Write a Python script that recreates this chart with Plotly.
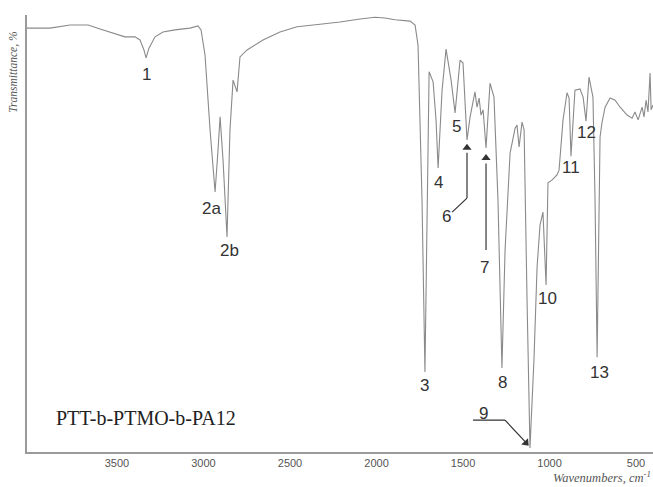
import plotly.graph_objects as go

# Spectrum trace (wavenumber, cm^-1 ; transmittance, %)
wavenumber = [4020, 3887, 3771, 3667, 3598, 3511, 3454, 3396, 3367, 3344, 3332, 3315, 3280, 3234,
              3165, 3078, 3032, 3014, 2991, 2962, 2933, 2916, 2904, 2887, 2864, 2847, 2829, 2806,
              2789, 2748, 2656, 2558, 2459, 2326, 2211, 2095, 2009, 1951, 1893, 1806, 1777, 1760,
              1737, 1720, 1702, 1696, 1673, 1656, 1644, 1621, 1598, 1569, 1546, 1517, 1500, 1477,
              1459, 1431, 1419, 1407, 1396, 1384, 1367, 1344, 1321, 1298, 1275, 1257, 1228, 1199,
              1188, 1176, 1159, 1147, 1130, 1113, 1090, 1072, 1055, 1038, 1020, 1009, 986, 957,
              945, 922, 899, 887, 876, 853, 824, 806, 789, 772, 749, 737, 725, 714, 708, 697,
              679, 650, 621, 592, 552, 523, 506, 488, 465, 454, 442, 431, 419, 413, 402]
transmittance = [97.0, 97.0, 97.7, 97.7, 96.8, 95.7, 95.0, 95.0, 94.3, 92.0, 90.2, 92.4, 95.0, 96.1,
                 96.6, 97.0, 97.5, 96.6, 90.8, 73.7, 59.5, 69.1, 76.7, 66.8, 49.2, 73.7, 85.1, 82.4,
                 90.4, 92.0, 94.3, 96.1, 97.3, 97.9, 98.4, 99.1, 99.5, 99.3, 98.9, 98.6, 97.7, 93.1,
                 57.7, 18.3, 68.6, 87.0, 84.7, 76.0, 65.0, 82.8, 92.2, 85.1, 77.6, 89.7, 89.0, 71.4,
                 76.7, 82.4, 78.9, 81.0, 77.1, 78.3, 69.6, 84.4, 81.2, 57.7, 19.2, 46.2, 68.4, 74.1,
                 74.8, 69.8, 75.5, 73.7, 34.8, 0.9, 21.1, 42.3, 51.9, 54.9, 38.2, 61.6, 62.2, 63.4,
                 64.5, 76.0, 82.2, 81.0, 67.7, 82.8, 83.1, 81.2, 75.7, 85.8, 81.2, 57.7, 21.7, 57.7,
                 72.1, 75.3, 78.9, 81.0, 80.5, 78.9, 77.1, 76.4, 77.8, 76.0, 78.9, 76.7, 80.5, 77.8,
                 86.7, 78.3, 79.4]

# Peak labels
peak_labels = ["1", "2a", "2b", "3", "4", "5", "6", "7", "8", "9", "10", "11", "12", "13"]
peak_label_x = [3332, 2951, 2852, 1720, 1644, 1540, 1598, 1373, 1269, 1384, 1009, 876, 789, 714]
peak_label_y = [86.3, 55.8, 46.0, 15.3, 61.6, 74.4, 53.8, 42.3, 15.8, 8.9, 35.2, 65.0, 73.0, 18.1]

tick_values = [3500, 3000, 2500, 2000, 1500, 1000, 500]
tick_labels = ["3500", "3000", "2500", "2000", "1500", "1000", "500"]

sample_name = "PTT-b-PTMO-b-PA12"

fig = go.Figure()
fig.add_trace(go.Scatter(x=wavenumber, y=transmittance, mode="lines",
                         line=dict(color="#8a8a8a", width=1.1), hoverinfo="skip"))

LBL = dict(family="Liberation Sans, Arial, sans-serif", size=17, color="#333333")
for t, x, y in zip(peak_labels, peak_label_x, peak_label_y):
    fig.add_annotation(x=x, y=y, text=t, showarrow=False, font=LBL, xref="x", yref="y")

# leader lines (label 6, 7, 9)
line_style = dict(color="#333333", width=1.2)
leader_paths = [
    [(1563, 54.9), (1477, 58.1), (1477, 68.5)],
    [(1367, 46.2), (1367, 66.0)],
    [(1442, 7.3), (1257, 7.3), (1140, 2.3)],
]
for path in leader_paths:
    for (x0, y0), (x1, y1) in zip(path[:-1], path[1:]):
        fig.add_shape(type="line", x0=x0, y0=y0, x1=x1, y1=y1, xref="x", yref="y", line=line_style)

# arrow heads
head_x = [1477, 1367, 1136]
head_y = [69.6, 67.3, 2.1]
head_angle = [0, 0, 137]
fig.add_trace(go.Scatter(x=head_x, y=head_y, mode="markers", hoverinfo="skip",
                         marker=dict(symbol="triangle-up", size=8, angle=head_angle,
                                     color="#333333", line=dict(width=0))))

# sample name
fig.add_annotation(xref="x", yref="y", x=3864, y=7.8, xanchor="left", text=sample_name, showarrow=False,
                   font=dict(family="Liberation Serif, Times New Roman, serif", size=20, color="#222222"))

# axis titles
fig.add_annotation(x=-0.021, y=0.87, xref="paper", yref="paper", text="<i>Transmittance, %</i>",
                   textangle=-90, showarrow=False, xanchor="center", yanchor="middle",
                   font=dict(family="Liberation Serif, Times New Roman, serif", size=11.5, color="#555555"))
fig.add_annotation(x=1.0, y=-0.057, xref="paper", yref="paper", text="<i>Wavenumbers, cm<sup>-1</sup></i>",
                   showarrow=False, xanchor="right", yanchor="middle",
                   font=dict(family="Liberation Serif, Times New Roman, serif", size=12.5, color="#555555"))

fig.update_layout(
    width=653, height=487,
    margin=dict(l=27, r=0, t=15, b=35),
    paper_bgcolor="white", plot_bgcolor="white",
    showlegend=False,
    xaxis=dict(range=[4020, 402], showgrid=False, zeroline=False, showline=True,
               linecolor="#9a9a9a", linewidth=1.5, tickvals=tick_values, ticktext=tick_labels,
               ticks="", tickfont=dict(family="Liberation Sans, Arial, sans-serif", size=11, color="#555555")),
    yaxis=dict(range=[0, 100], showgrid=False, zeroline=False, showline=True,
               linecolor="#9a9a9a", linewidth=1.5, showticklabels=False, ticks=""),
)

fig.write_html("out.html")
